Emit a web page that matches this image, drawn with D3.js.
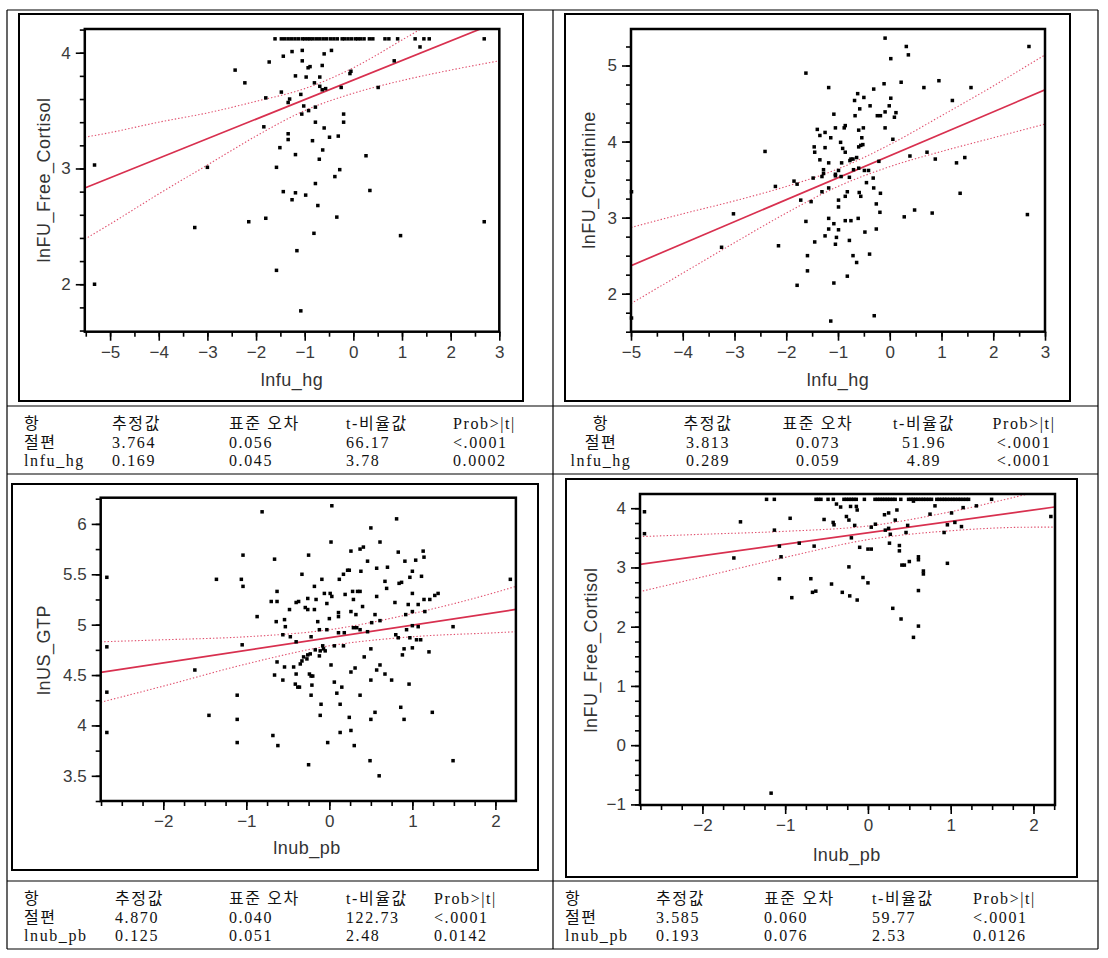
<!DOCTYPE html>
<html><head><meta charset="utf-8">
<script src="https://cdn.jsdelivr.net/npm/d3@7"></script>
<style>body{margin:0;background:#fff}</style>
</head><body>
<svg id="c" width="1108" height="958"></svg>
<script>
// ---------------- DATA ----------------
const p1XTicks = [-5,-4,-3,-2,-1,0,1,2,3];
const p1YTicks = [2,3,4];
const p2XTicks = [-5,-4,-3,-2,-1,0,1,2,3];
const p2YTicks = [2,3,4,5];
const p3XTicks = [-2,-1,0,1,2];
const p3YTicks = [3.5,4,4.5,5,5.5,6];
const p4XTicks = [-2,-1,0,1,2];
const p4YTicks = [-1,0,1,2,3,4];

// panel 1: lnfu_hg vs lnFU_Free_Cortisol
const p1Points = [
[-1.61,4.12],[-1.48,4.12],[-1.41,4.12],[-1.34,4.12],[-1.27,4.12],[-1.20,4.12],[-1.13,4.12],[-1.05,4.12],[-1.00,4.12],[-0.94,4.12],[-0.89,4.12],[-0.83,4.12],[-0.76,4.12],[-0.69,4.12],[-0.62,4.12],[-0.55,4.12],[-0.47,4.12],[-0.40,4.12],[-0.33,4.12],[-0.23,4.12],[-0.18,4.12],[-0.11,4.12],[-0.04,4.12],[0.04,4.12],[0.09,4.12],[0.15,4.12],[0.22,4.12],[0.33,4.12],[0.40,4.12],[0.65,4.12],[0.73,4.12],[0.91,4.12],[1.27,4.12],[1.45,4.12],[1.56,4.12],[2.69,4.12],
[1.37,4.05],[-1.05,4.02],[-1.26,4.01],[-0.45,4.02],[-0.60,3.99],[-1.44,3.97],[-1.05,3.93],[-1.73,3.92],[-0.64,3.89],[-0.89,3.88],[-0.93,3.87],[0.84,3.93],[-2.43,3.85],[-0.05,3.84],[-0.07,3.82],[-1.19,3.80],[-0.97,3.79],[-0.69,3.79],[-2.23,3.74],[-0.80,3.74],[-0.69,3.71],[-0.64,3.68],[-0.57,3.69],[-0.25,3.70],[0.51,3.70],[-1.48,3.66],[-1.08,3.64],[-1.80,3.61],[-1.31,3.60],[-1.34,3.57],[-1.02,3.54],[-0.78,3.53],[-0.92,3.50],[-1.06,3.47],[-0.20,3.47],[-0.78,3.40],[-0.20,3.40],[-1.84,3.36],[-0.60,3.35],[-1.34,3.30],[-0.31,3.28],[-0.49,3.27],[-1.34,3.25],[-0.84,3.24],[-1.51,3.18],[-0.63,3.16],[-1.19,3.12],[0.26,3.11],[-0.70,3.08],[-5.32,3.03],[-3.00,3.01],[-1.58,3.01],[-0.28,2.99],[-0.38,2.93],[-0.78,2.87],[0.34,2.81],[-1.44,2.80],[-1.19,2.79],[-0.98,2.77],[-1.26,2.73],[-0.73,2.68],[-0.34,2.58],[-1.80,2.57],[-2.15,2.54],[2.69,2.54],[-3.26,2.49],[-0.81,2.44],[0.97,2.42],[-1.16,2.29],[-1.58,2.12],[-5.32,2.00],[-1.08,1.77]
];
const p1FitX = [-5.52, 3];
const p1FitY = [2.831, 4.271];
const p1BandX = [-5.52,-5,-4,-3,-2,-1,0,1,2,3];
const p1BandUp = [3.27,3.31,3.40,3.48,3.58,3.69,3.87,4.11,4.36,4.61];
const p1BandLo = [2.39,2.52,2.78,3.03,3.28,3.50,3.65,3.76,3.85,3.93];

// panel 2: lnfu_hg vs lnFU_Creatinine
const p2Points = [
[-0.09,5.36],[0.32,5.25],[0.36,5.14],[2.69,5.25],[0.02,5.09],[-1.62,4.90],[0.22,4.78],[0.95,4.80],[-0.11,4.76],[-1.18,4.71],[-0.31,4.69],[0.66,4.71],[1.57,4.71],[-0.62,4.63],[-0.50,4.58],[0.02,4.57],[-0.68,4.54],[1.21,4.54],[-0.01,4.47],[-0.38,4.47],[-0.58,4.43],[-0.09,4.39],[0.12,4.38],[-1.08,4.36],[-0.24,4.34],[-0.18,4.34],[-0.67,4.34],[0.09,4.32],[-1.40,4.16],[-0.86,4.21],[-0.88,4.18],[-1.05,4.18],[-0.51,4.18],[-0.09,4.18],[-0.60,4.15],[-1.25,4.12],[-1.35,4.08],[-1.14,4.05],[-0.54,4.05],[0.06,4.03],[-0.95,3.99],[-0.91,3.91],[-0.56,3.95],[-0.52,3.96],[-1.46,3.93],[-1.25,3.92],[-0.60,3.93],[-2.41,3.87],[-1.45,3.86],[-0.86,3.86],[0.72,3.86],[0.39,3.81],[1.45,3.79],[-0.64,3.79],[-0.75,3.77],[-0.71,3.77],[-1.35,3.76],[-0.77,3.75],[0.88,3.77],[1.29,3.72],[-1.18,3.72],[-0.93,3.72],[-0.21,3.74],[-0.99,3.62],[-0.70,3.63],[-0.60,3.65],[-0.49,3.62],[-0.41,3.62],[-1.28,3.63],[-1.28,3.58],[-1.05,3.57],[-1.05,3.55],[-1.31,3.54],[-1.48,3.52],[-0.78,3.53],[-0.94,3.54],[-0.32,3.52],[-0.45,3.46],[-1.85,3.48],[-1.79,3.44],[-2.21,3.41],[-1.18,3.39],[-0.31,3.39],[-0.59,3.33],[-1.31,3.34],[-0.82,3.34],[-0.56,3.28],[-0.86,3.28],[-0.18,3.32],[-1.72,3.23],[-0.99,3.23],[-1.52,3.21],[-0.26,3.18],[-0.99,3.14],[-0.19,3.07],[0.48,3.10],[-3.02,3.05],[0.82,3.06],[0.28,3.01],[2.66,3.04],[-1.18,2.99],[-0.61,2.99],[-0.86,2.96],[-0.75,2.96],[-1.62,2.95],[-1.08,2.92],[-1.18,2.85],[-0.99,2.84],[-0.26,2.85],[-0.48,2.81],[-1.25,2.76],[-1.03,2.74],[-1.45,2.68],[-0.78,2.70],[-1.05,2.65],[-2.15,2.63],[-3.25,2.61],[-0.39,2.52],[-1.59,2.50],[-0.71,2.50],[-0.64,2.41],[-1.59,2.30],[-0.82,2.23],[-1.79,2.11],[-1.08,2.14],[-0.30,1.71],[-1.14,1.64],[-4.99,3.34],[-4.99,1.68],[1.36,3.32]
];
const p2FitX = [-5, 3];
const p2FitY = [2.368, 4.68];
const p2BandX = [-5,-4,-3,-2,-1,0,1,2,3];
const p2BandUp = [2.87,3.05,3.22,3.41,3.64,3.96,4.34,4.73,5.14];
const p2BandLo = [1.87,2.27,2.67,3.06,3.41,3.67,3.87,4.05,4.23];

// panel 3: lnub_pb vs lnUS_GTP
const p3Points = [
[0.03,6.18],[-0.81,6.12],[0.81,6.05],[0.50,5.96],[0.02,5.82],[0.61,5.82],[0.41,5.77],[0.37,5.75],[0.26,5.73],[0.83,5.72],[1.13,5.73],[-1.04,5.69],[-0.25,5.69],[1.14,5.67],[-0.66,5.65],[1.04,5.64],[0.91,5.63],[0.46,5.63],[0.70,5.57],[0.57,5.56],[0.22,5.54],[0.24,5.54],[0.38,5.53],[1.00,5.53],[-0.33,5.50],[0.17,5.50],[1.11,5.48],[0.97,5.47],[-2.68,5.47],[-1.36,5.45],[-1.06,5.45],[0.12,5.45],[-0.09,5.45],[2.18,5.45],[0.67,5.43],[0.84,5.41],[0.87,5.42],[-1.04,5.38],[-0.18,5.38],[0.69,5.36],[-0.63,5.33],[0.28,5.33],[0.34,5.33],[0.37,5.33],[-0.06,5.31],[0.01,5.31],[1.00,5.31],[1.31,5.31],[0.19,5.30],[0.57,5.28],[0.03,5.28],[1.27,5.29],[1.21,5.25],[1.14,5.25],[-0.26,5.26],[0.29,5.25],[-0.70,5.23],[-0.63,5.23],[-0.16,5.25],[-0.03,5.21],[-0.37,5.23],[-0.40,5.22],[0.79,5.22],[0.95,5.20],[1.07,5.20],[0.40,5.18],[-0.29,5.17],[-0.18,5.15],[-0.48,5.15],[-0.26,5.15],[1.15,5.13],[1.00,5.13],[0.26,5.13],[0.11,5.12],[0.32,5.10],[0.92,5.10],[0.11,5.08],[0.55,5.10],[-0.87,5.08],[0.00,5.06],[0.61,5.04],[-0.64,5.03],[-0.54,5.05],[-0.14,5.03],[0.51,5.02],[1.00,4.99],[1.07,4.98],[1.49,4.98],[-0.53,4.98],[0.29,4.97],[0.33,4.97],[0.37,4.95],[-0.12,4.95],[-0.03,4.95],[0.46,4.93],[0.93,4.95],[0.11,4.92],[0.18,4.92],[-0.56,4.90],[0.80,4.90],[0.83,4.87],[0.97,4.87],[1.05,4.85],[1.10,4.85],[-0.47,4.88],[-0.22,4.88],[-0.40,4.83],[-1.05,4.80],[-2.68,4.78],[-0.08,4.79],[0.06,4.79],[0.17,4.79],[0.90,4.76],[1.00,4.77],[0.50,4.76],[-0.07,4.76],[-0.05,4.74],[-0.17,4.75],[-0.23,4.71],[1.20,4.73],[-0.11,4.74],[-0.26,4.70],[0.88,4.70],[-0.12,4.69],[-0.31,4.68],[0.42,4.68],[-0.33,4.64],[-0.27,4.66],[-0.63,4.63],[-0.35,4.61],[0.61,4.60],[0.02,4.60],[-0.54,4.58],[-0.43,4.58],[0.31,4.57],[-1.62,4.55],[0.57,4.55],[0.26,4.53],[0.67,4.51],[-0.24,4.51],[-0.40,4.51],[-0.22,4.49],[-0.20,4.49],[-0.66,4.50],[0.50,4.45],[-0.56,4.45],[0.75,4.45],[0.06,4.43],[-0.41,4.41],[0.96,4.41],[-0.38,4.38],[-0.36,4.38],[0.15,4.38],[-0.21,4.40],[-2.68,4.33],[-1.11,4.30],[0.09,4.32],[0.37,4.30],[-0.22,4.30],[-0.10,4.21],[0.13,4.21],[0.86,4.18],[0.55,4.13],[1.24,4.13],[-1.45,4.10],[-0.11,4.10],[0.24,4.08],[0.50,4.06],[-1.11,4.06],[0.90,4.06],[0.13,3.93],[-2.68,3.93],[0.26,3.95],[-0.68,3.90],[-0.02,3.83],[-1.11,3.83],[-0.62,3.80],[0.30,3.80],[-0.25,3.61],[0.49,3.65],[1.49,3.65],[0.60,3.50]
];
const p3FitX = [-2.753, 2.247];
const p3FitY = [4.526, 5.151];
const p3BandX = [-2.753,-2,-1,0,1,2,2.247];
const p3BandUp = [4.83,4.85,4.88,4.95,5.11,5.32,5.38];
const p3BandLo = [4.23,4.39,4.61,4.79,4.88,4.92,4.93];

// panel 4: lnub_pb vs lnFU_Free_Cortisol
const p4Points = [
[-1.225,4.15],[-1.131,4.15],[-0.627,4.15],[-0.598,4.15],[-0.568,4.15],[-0.482,4.15],[-0.418,4.15],[-0.290,4.15],[-0.260,4.15],[-0.230,4.15],[-0.201,4.15],[-0.171,4.15],[-0.141,4.15],[-0.043,4.15],[0.085,4.15],[0.115,4.15],[0.145,4.15],[0.175,4.15],[0.205,4.15],[0.235,4.15],[0.265,4.15],[0.299,4.15],[0.329,4.15],[0.397,4.15],[0.491,4.15],[0.521,4.15],[0.546,4.15],[0.576,4.15],[0.606,4.15],[0.640,4.15],[0.670,4.15],[0.700,4.15],[0.734,4.15],[0.768,4.15],[0.832,4.15],[0.862,4.15],[0.896,4.15],[0.926,4.15],[0.956,4.15],[0.990,4.15],[1.024,4.15],[1.054,4.15],[1.088,4.15],[1.118,4.15],[1.152,4.15],[1.186,4.15],[1.216,4.15],[1.494,4.15],
[-2.70,3.94],[-2.70,3.57],[0.55,4.12],[-0.38,4.07],[-0.33,4.02],[-0.21,4.03],[-0.14,4.03],[-0.13,3.97],[0.35,3.97],[0.81,4.04],[1.15,4.01],[1.31,4.04],[2.21,3.86],[-0.94,3.83],[0.20,3.89],[0.25,3.92],[1.01,3.92],[0.75,3.90],[-0.26,3.86],[-0.23,3.80],[-0.53,3.81],[0.33,3.80],[-1.54,3.77],[-0.42,3.76],[-0.41,3.72],[-0.16,3.71],[0.09,3.73],[0.96,3.72],[1.13,3.69],[1.05,3.76],[0.04,3.68],[0.48,3.71],[-1.13,3.63],[0.21,3.63],[0.25,3.66],[0.46,3.59],[0.92,3.59],[0.27,3.56],[-0.20,3.50],[-0.83,3.41],[0.26,3.41],[-1.07,3.36],[-0.65,3.36],[0.38,3.37],[-0.10,3.34],[0.38,3.28],[0.00,3.31],[0.04,3.31],[-1.05,3.18],[-1.62,3.16],[0.61,3.18],[0.61,3.13],[0.50,3.10],[0.96,3.07],[0.44,3.04],[0.41,3.04],[-0.23,3.01],[0.67,2.94],[0.67,2.89],[-0.06,2.83],[-1.07,2.81],[-0.69,2.81],[0.00,2.74],[-0.44,2.72],[0.61,2.61],[-0.63,2.60],[-0.67,2.58],[-0.31,2.58],[-0.22,2.52],[-0.92,2.49],[-0.13,2.45],[0.30,2.31],[0.40,2.13],[0.61,2.01],[0.55,1.82],[-1.17,-0.81]
];
const p4FitX = [-2.76, 2.254];
const p4FitY = [3.052, 4.02];
const p4BandX = [-2.76,-2,-1,0,1,2,2.254];
const p4BandUp = [3.52,3.56,3.61,3.70,3.94,4.26,4.34];
const p4BandLo = [2.59,2.84,3.17,3.47,3.62,3.68,3.68];

// parameter tables
const tableHeaders = ["항","추정값","표준 오차","t-비율값","Prob>|t|"];
const t1Rows = [["절편","3.764","0.056","66.17","<.0001"],["lnfu_hg","0.169","0.045","3.78","0.0002"]];
const t2Rows = [["절편","3.813","0.073","51.96","<.0001"],["lnfu_hg","0.289","0.059","4.89","<.0001"]];
const t3Rows = [["절편","4.870","0.040","122.73","<.0001"],["lnub_pb","0.125","0.051","2.48","0.0142"]];
const t4Rows = [["절편","3.585","0.060","59.77","<.0001"],["lnub_pb","0.193","0.076","2.53","0.0126"]];

// ---------------- DRAW ----------------
const svg = d3.select('#c');
const SANS = '"Liberation Sans", Arial, sans-serif';
const SERIF = '"Liberation Serif", "Noto Sans CJK KR", serif';
const RED = '#d8304f';

// outer grid
const gx = [7, 553, 1098], gy = [10, 406, 474, 881, 949];
gx.forEach(v => svg.append('line').attr('x1',v).attr('x2',v).attr('y1',gy[0]).attr('y2',gy[4]).attr('stroke','#000').attr('stroke-width',1.2));
gy.forEach(v => svg.append('line').attr('x1',gx[0]).attr('x2',gx[2]).attr('y1',v).attr('y2',v).attr('stroke','#000').attr('stroke-width',1.2));

function minorVals(dom, step){
  const a = Math.ceil(dom[0]/step - 1e-6), b = Math.floor(dom[1]/step + 1e-6);
  return d3.range(a, b+1).map(i => +(i*step).toFixed(4));
}

function drawPanel(c, idx){
  const g = svg.append('g');
  g.append('rect').attr('x',c.frame[0]).attr('y',c.frame[1])
    .attr('width',c.frame[2]-c.frame[0]).attr('height',c.frame[3]-c.frame[1])
    .attr('fill','none').attr('stroke','#000').attr('stroke-width',2);
  const x = d3.scaleLinear().domain(c.xDom).range([c.plot[0], c.plot[2]]);
  const y = d3.scaleLinear().domain(c.yDom).range([c.plot[3], c.plot[1]]);

  const styleAxis = sel => {
    sel.select('.domain').remove();
    sel.selectAll('.tick line').attr('stroke','#000').attr('stroke-width',1.6);
    sel.selectAll('.tick text').attr('font-family',SANS).attr('font-size',17).attr('fill','#3a3a3a');
  };
  g.append('g').attr('transform',`translate(0,${c.plot[3]})`)
    .call(d3.axisBottom(x).tickValues(minorVals(c.xDom,c.xStep)).tickSize(5).tickFormat('')).call(styleAxis);
  g.append('g').attr('transform',`translate(0,${c.plot[3]})`)
    .call(d3.axisBottom(x).tickValues(c.xTicks).tickSize(9).tickPadding(5).tickFormat(d3.format('~g'))).call(styleAxis);
  g.append('g').attr('transform',`translate(${c.plot[0]},0)`)
    .call(d3.axisLeft(y).tickValues(minorVals(c.yDom,c.yStep)).tickSize(5).tickFormat('')).call(styleAxis);
  g.append('g').attr('transform',`translate(${c.plot[0]},0)`)
    .call(d3.axisLeft(y).tickValues(c.yTicks).tickSize(9).tickPadding(5).tickFormat(d3.format('~g'))).call(styleAxis);

  const cid = 'clip'+idx;
  g.append('clipPath').attr('id',cid).append('rect')
    .attr('x',c.plot[0]).attr('y',c.plot[1]).attr('width',c.plot[2]-c.plot[0]).attr('height',c.plot[3]-c.plot[1]);
  const inner = g.append('g').attr('clip-path',`url(#${cid})`);

  const bandLine = d3.line().x(d=>x(d[0])).y(d=>y(d[1])).curve(d3.curveMonotoneX);
  [c.bandUp, c.bandLo].forEach(arr => {
    inner.append('path').datum(c.bandX.map((v,i)=>[v,arr[i]]))
      .attr('d',bandLine).attr('fill','none').attr('stroke','#e0506e')
      .attr('stroke-width',1.1).attr('stroke-dasharray','1.4,2');
  });
  inner.append('path').datum(c.fitX.map((v,i)=>[v,c.fitY[i]]))
    .attr('d',d3.line().x(d=>x(d[0])).y(d=>y(d[1])))
    .attr('fill','none').attr('stroke',RED).attr('stroke-width',1.7);

  g.append('g').selectAll('rect').data(c.pts).join('rect')
    .attr('x',d=>x(d[0])-1.75).attr('y',d=>y(d[1])-1.75)
    .attr('width',3.5).attr('height',3.5).attr('fill','#000');

  // plot border
  g.append('rect').attr('x',c.plot[0]).attr('y',c.plot[1])
    .attr('width',c.plot[2]-c.plot[0]).attr('height',c.plot[3]-c.plot[1])
    .attr('fill','none').attr('stroke','#000').attr('stroke-width',2.5);

  g.append('text').attr('x',c.xTitlePos[0]).attr('y',c.xTitlePos[1]).attr('dy','0.35em')
    .attr('text-anchor','middle').attr('font-family',SANS).attr('font-size',18)
    .attr('letter-spacing','0.5px').attr('fill','#333').text(c.xTitle);
  g.append('text').attr('transform',`translate(${c.yTitlePos[0]},${c.yTitlePos[1]}) rotate(-90)`).attr('dy','0.35em')
    .attr('text-anchor','middle').attr('font-family',SANS).attr('font-size',18)
    .attr('letter-spacing','0.5px').attr('fill','#333').text(c.yTitle);
}

const panels = [
  {frame:[19,14,523,401], plot:[84.8,29,499.3,331.7], xDom:[-5.52,3], yDom:[1.59,4.205],
   xTicks:p1XTicks, xStep:0.5, yTicks:p1YTicks, yStep:0.2, pts:p1Points,
   fitX:p1FitX, fitY:p1FitY, bandX:p1BandX, bandUp:p1BandUp, bandLo:p1BandLo,
   xTitle:'lnfu_hg', yTitle:'lnFU_Free_Cortisol', xTitlePos:[292,380], yTitlePos:[44,180]},
  {frame:[565,14,1070,401], plot:[631,29,1045,331.7], xDom:[-5,3], yDom:[1.5,5.48],
   xTicks:p2XTicks, xStep:0.5, yTicks:p2YTicks, yStep:0.25, pts:p2Points,
   fitX:p2FitX, fitY:p2FitY, bandX:p2BandX, bandUp:p2BandUp, bandLo:p2BandLo,
   xTitle:'lnfu_hg', yTitle:'lnFU_Creatinine', xTitlePos:[838,380], yTitlePos:[589,180]},
  {frame:[12,484,538,870], plot:[100.7,497.7,515.9,801], xDom:[-2.754,2.247], yDom:[3.25,6.26],
   xTicks:p3XTicks, xStep:0.25, yTicks:p3YTicks, yStep:0.25, pts:p3Points,
   fitX:p3FitX, fitY:p3FitY, bandX:p3BandX, bandUp:p3BandUp, bandLo:p3BandLo,
   xTitle:'lnub_pb', yTitle:'lnUS_GTP', xTitlePos:[307,848], yTitlePos:[44,650]},
  {frame:[566,479,1077,877], plot:[640,494,1055,805], xDom:[-2.754,2.26], yDom:[-1.01,4.24],
   xTicks:p4XTicks, xStep:0.25, yTicks:p4YTicks, yStep:0.25, pts:p4Points,
   fitX:p4FitX, fitY:p4FitY, bandX:p4BandX, bandUp:p4BandUp, bandLo:p4BandLo,
   xTitle:'lnub_pb', yTitle:'lnFU_Free_Cortisol', xTitlePos:[847,855], yTitlePos:[591,650]}
];
panels.forEach((p,i) => drawPanel(p,i));

function drawTable(rows, cols, ys, anchor){
  const all = [tableHeaders].concat(rows);
  all.forEach((r, ri) => r.forEach((cell, ci) => {
    svg.append('text').attr('x',cols[ci]).attr('y',ys[ri]).attr('text-anchor',anchor)
      .attr('font-family',SERIF).attr('font-size',16).attr('letter-spacing','1.6px')
      .attr('fill','#111').text(cell);
  }));
}
drawTable(t1Rows, [24,112,229,346,453], [429,447.5,466], 'start');
drawTable(t2Rows, [601,708,818,924,1024], [429,447.5,466], 'middle');
drawTable(t3Rows, [24,115,229,346,434], [904,922.5,941], 'start');
drawTable(t4Rows, [565,656,764,872,973], [904,922.5,941], 'start');
</script>
</body></html>
